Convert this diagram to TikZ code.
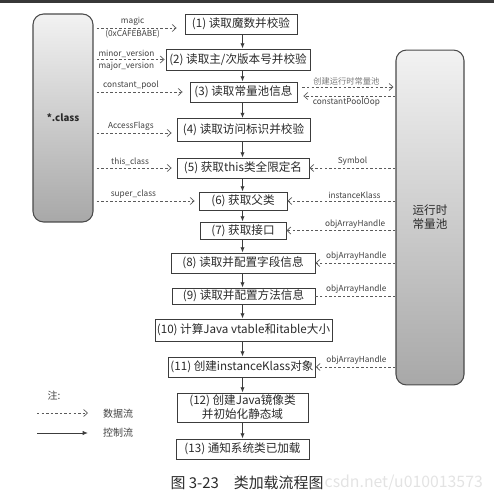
\documentclass[tikz,border=0pt]{standalone}
\usepackage{fontspec}
\setmainfont{Noto Sans CJK SC}
\usetikzlibrary{arrows.meta}
\definecolor{flowInk}{HTML}{2A2A2A}
\definecolor{flowLine}{HTML}{3C3C3C}
\definecolor{dataLine}{HTML}{5A5A5A}
\definecolor{labInk}{HTML}{404040}
\definecolor{poolTop}{HTML}{F2F2F2}
\definecolor{poolBot}{HTML}{A8A8A8}
\definecolor{poolEdge}{HTML}{4A4A4A}
\definecolor{topBar}{HTML}{383838}

\begin{document}
\begin{tikzpicture}[x=0.02cm,y=-0.02cm,
  flow/.style={draw=flowLine,fill=white,line width=0.5pt,inner sep=1pt,
               font=\fontsize{6.6}{8}\selectfont,text=flowInk,align=center},
  pool/.style={draw=poolEdge,line width=0.6pt,rounded corners=6pt,
               top color=poolTop,bottom color=poolBot,align=center,text=flowInk},
  ctl/.style={-{Latex[length=3pt,width=2.4pt]},line width=0.5pt,flowLine},
  dat/.style={-{Straight Barb[length=2.2pt,width=4pt]},line width=0.4pt,dataLine,
              dash pattern=on 1.4pt off 1.2pt},
  lab/.style={font=\fontsize{4.7}{5.6}\selectfont,text=labInk,inner sep=1pt},
  leg/.style={font=\fontsize{5.7}{7}\selectfont,text=labInk,inner sep=1pt}]
  \useasboundingbox (0,0) rectangle (494,496);
  \fill[topBar] (0,0) rectangle (494,3.5);

  % class file and runtime constant pool
  \node[pool,minimum width=1.2cm,minimum height=4.16cm,font=\fontsize{5.5}{6}\selectfont\bfseries]
    (cls) at (63,118) {*.class};
  \node[pool,minimum width=1.36cm,minimum height=6.7cm,font=\fontsize{6.6}{8}\selectfont]
    (rtp) at (430,217.5) {运行时\\常量池};

  % loading steps
  \node[flow,minimum width=2.24cm,minimum height=0.40cm] (s1)  at (241,24)    {(1) 读取魔数并校验};
  \node[flow,minimum width=2.88cm,minimum height=0.42cm] (s2)  at (238,59.5)  {(2) 读取主/次版本号并校验};
  \node[flow,minimum width=2.14cm,minimum height=0.40cm] (s3)  at (243.5,92)  {(3) 读取常量池信息};
  \node[flow,minimum width=2.66cm,minimum height=0.46cm] (s4)  at (243.5,130) {(4) 读取访问标识并校验};
  \node[flow,minimum width=2.64cm,minimum height=0.40cm] (s5)  at (243,168)   {(5) 获取this类全限定名};
  \node[flow,minimum width=1.76cm,minimum height=0.36cm] (s6)  at (243,201)   {(6) 获取父类};
  \node[flow,minimum width=1.72cm,minimum height=0.34cm] (s7)  at (243,230.5) {(7) 获取接口};
  \node[flow,minimum width=2.88cm,minimum height=0.40cm] (s8)  at (243,263)   {(8) 读取并配置字段信息};
  \node[flow,minimum width=2.86cm,minimum height=0.32cm] (s9)  at (243.5,296) {(9) 读取并配置方法信息};
  \node[flow,minimum width=3.54cm,minimum height=0.44cm] (s10) at (243.5,330) {(10) 计算Java vtable和itable大小};
  \node[flow,minimum width=2.92cm,minimum height=0.40cm] (s11) at (242,367)   {(11) 创建instanceKlass对象};
  \node[flow,minimum width=2.62cm,minimum height=0.58cm] (s12) at (242.5,407.5) {(12) 创建Java镜像类\\并初始化静态域};
  \node[flow,minimum width=2.66cm,minimum height=0.40cm] (s13) at (242.5,449) {(13) 通知系统类已加载};

  \foreach \a/\b in {s1/s2,s2/s3,s3/s4,s4/s5,s5/s6,s6/s7,s7/s8,s8/s9,s9/s10,s10/s11,s11/s12,s12/s13}
    \draw[ctl] (\a.south -| s13) -- (\b.north -| s13);

  % data read from the class file
  \draw[dat,shorten <=0.06cm,shorten >=0.16cm] ([yshift=-0.08cm]cls.east |- s1) -- ([yshift=-0.08cm]s1.west)
    node[lab,above,pos=0.43] (lmagic) {magic}
    node[lab,below,pos=0.43] (lcafe) {(0xCAFEBABE)};
  \draw[dat,shorten <=0.06cm,shorten >=0.02cm] (cls.east |- s2) -- (s2.west)
    node[lab,anchor=south west,pos=0.04] (lminor) {minor\_version}
    node[lab,anchor=north west,pos=0.04] (lmajor) {major\_version};
  \draw[dat,shorten <=0.06cm,shorten >=0.14cm] (cls.east |- s3) -- (s3.west)
    node[lab,above,pos=0.39] (lcp) {constant\_pool};
  \draw[dat,shorten <=0.06cm,shorten >=0.10cm] ([yshift=-0.06cm]cls.east |- s4) -- ([yshift=-0.06cm]s4.west)
    node[lab,above,pos=0.45] (lflags) {AccessFlags};
  \draw[dat,shorten <=0.06cm,shorten >=0.10cm] (cls.east |- s5) -- (s5.west)
    node[lab,above,pos=0.44] (lthis) {this\_class};
  \draw[dat,shorten <=0.06cm,shorten >=0.08cm] (cls.east |- s6) -- (s6.west)
    node[lab,above,pos=0.38] (lsuper) {super\_class};

  % exchange with the runtime constant pool
  \draw[dat,shorten <=0.10cm,shorten >=0.04cm] ([yshift=0.1cm]s3.east) -- ([yshift=0.1cm]s3.east -| rtp.west)
    node[lab,above,midway,text=labInk!70] (lmk) {创建运行时常量池};
  \draw[dat,shorten >=0.12cm] ([yshift=-0.08cm]s3.east -| rtp.west) -- ([yshift=-0.08cm]s3.east)
    node[lab,below,midway] (lcpo) {constantPoolOop};
  \draw[dat] (rtp.west |- s5) -- (s5.east) node[lab,above,pos=0.5] (lsym) {Symbol};
  \draw[dat] (rtp.west |- s6) -- (s6.east) node[lab,above,pos=0.38] (lik) {instanceKlass};
  \draw[dat] (rtp.west |- s7) -- (s7.east) node[lab,above,pos=0.37] (loah1) {objArrayHandle};
  \draw[dat] (rtp.west |- s8) -- (s8.east) node[lab,above,pos=0.49] (loah2) {objArrayHandle};
  \draw[dat,-] (rtp.west |- s9) -- (s9.east) node[lab,above,pos=0.49] (loah3) {objArrayHandle};
  \draw[dat] (rtp.west |- s11) -- (s11.east) node[lab,above,pos=0.49] (loah4) {objArrayHandle};

  % legend
  \node[leg] (note) at (54,396) {注:};
  \coordinate (dfrom) at (37,413); \coordinate (dto) at (88,413);
  \coordinate (cfrom) at (37,433); \coordinate (cto) at (88,433);
  \draw[dat] (dfrom) -- (dto);
  \draw[ctl] (cfrom) -- (cto);
  \node[leg,anchor=west] (ldata) at (101,414) {数据流};
  \node[leg,anchor=west] (lctl) at (101,433) {控制流};

  % caption
  \node[anchor=east,font=\fontsize{9}{10}\selectfont,text=gray!22] (wm) at (489,483) {https://blog.csdn.net/u010013573};
  \node[font=\fontsize{8.5}{10}\selectfont,text=flowInk,fill=white,inner sep=0.5pt] (cap) at (247,483) {图 3-23\quad 类加载流程图};
\end{tikzpicture}
\end{document}
